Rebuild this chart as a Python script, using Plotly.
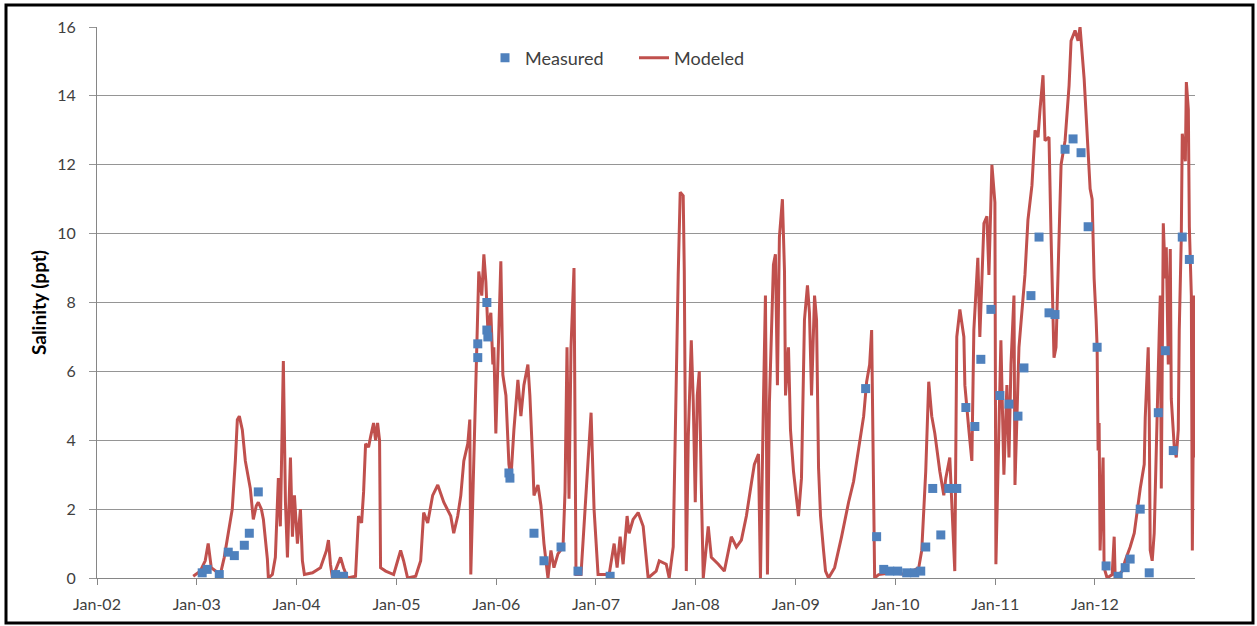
import pandas as pd
import plotly.graph_objects as go

# Modeled salinity (ppt), time as decimal years
model_t = [
    2002.964, 2003.034, 2003.084, 2003.114, 2003.145, 2003.185, 2003.235, 2003.275, 2003.305, 2003.355,
    2003.386, 2003.406, 2003.426, 2003.456, 2003.486, 2003.516, 2003.536, 2003.566, 2003.596, 2003.616,
    2003.647, 2003.667, 2003.707, 2003.717, 2003.757, 2003.787, 2003.817, 2003.837, 2003.857, 2003.867,
    2003.888, 2003.908, 2003.938, 2003.958, 2003.978, 2004.008, 2004.038, 2004.058, 2004.078, 2004.159,
    2004.239, 2004.299, 2004.319, 2004.339, 2004.359, 2004.400, 2004.440, 2004.470, 2004.510, 2004.590,
    2004.620, 2004.651, 2004.671, 2004.691, 2004.721, 2004.741, 2004.771, 2004.791, 2004.811, 2004.831,
    2004.841, 2004.892, 2004.972, 2005.012, 2005.042, 2005.072, 2005.112, 2005.193, 2005.243, 2005.273,
    2005.313, 2005.363, 2005.414, 2005.474, 2005.544, 2005.574, 2005.614, 2005.645, 2005.675, 2005.715,
    2005.735, 2005.745, 2005.775, 2005.805, 2005.825, 2005.855, 2005.876, 2005.896, 2005.916, 2005.946,
    2005.966, 2005.976, 2005.996, 2006.016, 2006.046, 2006.066, 2006.097, 2006.127, 2006.147, 2006.177,
    2006.217, 2006.247, 2006.277, 2006.317, 2006.337, 2006.367, 2006.378, 2006.418, 2006.448, 2006.478,
    2006.518, 2006.548, 2006.578, 2006.618, 2006.669, 2006.689, 2006.709, 2006.729, 2006.749, 2006.779,
    2006.789, 2006.799, 2006.849, 2006.900, 2006.950, 2006.980, 2007.020, 2007.131, 2007.181, 2007.211,
    2007.241, 2007.271, 2007.311, 2007.331, 2007.371, 2007.422, 2007.472, 2007.502, 2007.522, 2007.602,
    2007.633, 2007.703, 2007.733, 2007.773, 2007.793, 2007.823, 2007.843, 2007.873, 2007.884, 2007.904,
    2007.924, 2007.954, 2007.974, 2007.994, 2008.014, 2008.034, 2008.054, 2008.074, 2008.124, 2008.155,
    2008.225, 2008.285, 2008.355, 2008.406, 2008.456, 2008.506, 2008.556, 2008.586, 2008.627, 2008.647,
    2008.677, 2008.697, 2008.717, 2008.737, 2008.777, 2008.797, 2008.817, 2008.837, 2008.867, 2008.888,
    2008.898, 2008.928, 2008.948, 2008.978, 2009.028, 2009.058, 2009.088, 2009.118, 2009.138, 2009.159,
    2009.189, 2009.209, 2009.229, 2009.249, 2009.279, 2009.299, 2009.329, 2009.390, 2009.460, 2009.530,
    2009.580, 2009.631, 2009.681, 2009.711, 2009.741, 2009.761, 2009.781, 2009.791, 2009.831, 2009.962,
    2010.112, 2010.233, 2010.263, 2010.303, 2010.333, 2010.363, 2010.394, 2010.444, 2010.484, 2010.504,
    2010.544, 2010.564, 2010.594, 2010.614, 2010.645, 2010.685, 2010.695, 2010.735, 2010.765, 2010.785,
    2010.825, 2010.845, 2010.886, 2010.916, 2010.936, 2010.966, 2010.996, 2011.006, 2011.036, 2011.056,
    2011.086, 2011.116, 2011.137, 2011.157, 2011.187, 2011.197, 2011.237, 2011.267, 2011.297, 2011.327,
    2011.367, 2011.398, 2011.428, 2011.448, 2011.478, 2011.498, 2011.538, 2011.558, 2011.588, 2011.608,
    2011.639, 2011.659, 2011.699, 2011.739, 2011.759, 2011.799, 2011.829, 2011.849, 2011.890, 2011.920,
    2011.950, 2011.970, 2011.990, 2012.010, 2012.020, 2012.030, 2012.040, 2012.050, 2012.080, 2012.090,
    2012.120, 2012.171, 2012.191, 2012.201, 2012.271, 2012.301, 2012.351, 2012.392, 2012.422, 2012.452,
    2012.492, 2012.502, 2012.532, 2012.542, 2012.552, 2012.572, 2012.592, 2012.622, 2012.643, 2012.653,
    2012.663, 2012.683, 2012.703, 2012.713, 2012.733, 2012.753, 2012.763, 2012.793, 2012.813, 2012.833,
    2012.843, 2012.863, 2012.873, 2012.904, 2012.914, 2012.934, 2012.944, 2012.964, 2012.974, 2012.994,
    2013.004,
]
model_v = [
    0.05, 0.2, 0.5, 1.0, 0.3, 0.2, 0.1, 0.6, 1.1, 2.0,
    3.4, 4.6, 4.7, 4.3, 3.4, 2.9, 2.6, 1.7, 2.1, 2.2,
    2.0, 1.7, 0.55, 0.0, 0.1, 0.6, 2.9, 1.5, 5.7, 6.3,
    2.2, 0.6, 3.5, 1.2, 2.4, 1.0, 2.0, 0.5, 0.1, 0.15,
    0.3, 0.8, 1.1, 0.4, 0.0, 0.3, 0.6, 0.3, 0.0, 0.05,
    1.8, 1.6, 2.5, 3.9, 3.8, 4.1, 4.5, 4.0, 4.5, 4.0,
    0.3, 0.2, 0.1, 0.5, 0.8, 0.5, 0.0, 0.05, 0.5, 1.9,
    1.6, 2.4, 2.7, 2.2, 1.8, 1.3, 1.8, 2.4, 3.4, 3.9,
    4.6, 0.1, 3.3, 6.0, 8.9, 8.2, 9.4, 8.6, 7.2, 7.7,
    6.2, 6.7, 4.2, 6.2, 9.2, 5.9, 5.3, 3.3, 2.9, 4.3,
    5.75, 4.7, 5.6, 6.2, 5.3, 3.3, 2.4, 2.7, 2.1, 1.0,
    0.0, 0.8, 0.3, 0.7, 0.9, 2.5, 6.7, 2.3, 6.7, 9.0,
    2.8, 0.1, 0.1, 2.5, 4.8, 2.0, 0.1, 0.1, 1.0, 0.3,
    1.2, 0.4, 1.8, 1.3, 1.7, 1.9, 1.5, 0.6, 0.0, 0.2,
    0.5, 0.4, 0.0, 0.9, 4.5, 8.8, 11.2, 11.1, 8.9, 0.2,
    4.1, 6.9, 5.1, 2.2, 5.3, 6.0, 2.7, 0.0, 1.5, 0.6,
    0.4, 0.2, 1.2, 0.9, 1.1, 1.8, 2.75, 3.3, 3.6, 0.0,
    5.1, 8.2, 0.1, 5.1, 9.1, 9.4, 5.6, 9.9, 11.0, 8.9,
    5.3, 6.7, 4.3, 3.1, 1.8, 2.9, 7.5, 8.5, 7.7, 5.3,
    8.2, 7.5, 3.2, 1.8, 0.8, 0.2, 0.0, 0.3, 1.2, 2.2,
    2.8, 3.7, 4.7, 5.7, 6.2, 7.2, 1.8, 0.0, 0.1, 0.15,
    0.1, 0.3, 0.8, 3.1, 5.7, 4.7, 4.2, 3.1, 2.4, 2.9,
    3.5, 2.2, 0.2, 7.0, 7.8, 7.0, 5.6, 4.3, 3.4, 7.2,
    9.3, 7.0, 10.3, 10.5, 8.8, 12.0, 10.9, 0.4, 4.6, 6.9,
    3.0, 5.6, 3.5, 6.2, 8.2, 2.7, 6.7, 7.8, 8.8, 10.4,
    11.4, 13.0, 12.8, 13.6, 14.6, 12.7, 12.8, 10.0, 6.4, 6.7,
    9.6, 12.0, 12.7, 14.3, 15.6, 15.9, 15.6, 16.0, 14.5, 12.8,
    11.3, 11.0, 8.7, 7.5, 6.7, 3.7, 4.5, 0.8, 3.5, 0.3,
    0.0, 0.1, 1.2, 0.0, 0.2, 0.5, 0.9, 1.3, 2.0, 2.6,
    3.3, 4.65, 6.7, 4.8, 0.8, 0.5, 1.3, 5.2, 7.2, 8.2,
    2.6, 10.3, 8.7, 9.6, 6.2, 9.55, 5.2, 3.8, 3.5, 4.3,
    7.2, 9.85, 12.9, 12.1, 14.4, 13.6, 10.2, 8.2, 0.8, 8.2,
    3.5,
]

# Measured salinity (ppt)
meas_t = [
    2003.054, 2003.104, 2003.225, 2003.315, 2003.376, 2003.476, 2003.526, 2003.616,
    2004.390, 2004.470,
    2005.815, 2005.815, 2005.906, 2005.906, 2005.916, 2006.127, 2006.137, 2006.378,
    2006.478, 2006.649, 2006.819, 2007.141,
    2009.701, 2009.811, 2009.882, 2009.942, 2010.022, 2010.112, 2010.193, 2010.253,
    2010.303, 2010.373, 2010.454, 2010.534, 2010.614, 2010.705, 2010.795, 2010.855,
    2010.956, 2011.046, 2011.137, 2011.227, 2011.287, 2011.357, 2011.438, 2011.538,
    2011.598, 2011.699, 2011.779, 2011.859, 2011.930, 2012.020, 2012.110, 2012.231,
    2012.301, 2012.351, 2012.452, 2012.542, 2012.633, 2012.703, 2012.783, 2012.873,
    2012.944,
]
meas_v = [
    0.15, 0.25, 0.1, 0.75, 0.65, 0.95, 1.3, 2.5,
    0.1, 0.05,
    6.8, 6.4, 8.0, 7.2, 7.0, 3.05, 2.9, 1.3,
    0.5, 0.9, 0.2, 0.05,
    5.5, 1.2, 0.25, 0.2, 0.2, 0.15, 0.15, 0.2,
    0.9, 2.6, 1.25, 2.6, 2.6, 4.95, 4.4, 6.35,
    7.8, 5.3, 5.05, 4.7, 6.1, 8.2, 9.9, 7.7,
    7.65, 12.45, 12.75, 12.35, 10.2, 6.7, 0.35, 0.05,
    0.3, 0.55, 2.0, 0.15, 4.8, 6.6, 3.7, 9.9,
    9.25,
]

x_ticks = ['2002-01-01', '2003-01-01', '2004-01-01', '2005-01-01', '2006-01-01', '2007-01-01',
           '2008-01-01', '2009-01-01', '2010-01-01', '2011-01-01', '2012-01-01']
x_labels = ['Jan-02', 'Jan-03', 'Jan-04', 'Jan-05', 'Jan-06', 'Jan-07',
            'Jan-08', 'Jan-09', 'Jan-10', 'Jan-11', 'Jan-12']
y_ticks = [0, 2, 4, 6, 8, 10, 12, 14, 16]


def to_dates(ts):
    base = pd.Timestamp('2002-01-01')
    return [base + pd.to_timedelta((t - 2002) * 365.25, unit='D') for t in ts]


fig = go.Figure()

fig.add_trace(go.Scatter(
    x=to_dates(model_t), y=model_v, name='Modeled', mode='lines',
    line=dict(color='#C0504D', width=3), legendrank=2
))

fig.add_trace(go.Scatter(
    x=to_dates(meas_t), y=meas_v, name='Measured', mode='markers',
    marker=dict(color='#4F81BD', symbol='square', size=9), legendrank=1
))

W, H = 1257, 626
L, R, T, B = 97, 62, 27, 48
pw, ph = W - L - R, H - T - B


def px(x):
    return (x - L) / pw


def py(y):
    return (H - B - y) / ph


fig.update_layout(
    width=W, height=H,
    margin=dict(l=L, r=R, t=T, b=B),
    paper_bgcolor='white', plot_bgcolor='white',
    font=dict(family='Lato, Open Sans, sans-serif', size=16, color='#404040'),
    showlegend=True,
    legend=dict(orientation='h', x=px(485), xanchor='left', y=py(58), yanchor='middle',
                entrywidth=104, entrywidthmode='pixels',
                font=dict(size=18, color='#404040'), bgcolor='rgba(0,0,0,0)'),
    shapes=[dict(type='rect', xref='paper', yref='paper',
                 x0=px(6), x1=px(1253), y0=py(623), y1=py(5),
                 line=dict(color='black', width=3), fillcolor='rgba(0,0,0,0)', layer='above')],
)

fig.update_xaxes(
    type='date', range=['2002-01-01', '2013-01-01'],
    tickvals=x_ticks, ticktext=x_labels,
    showgrid=False, showline=True, linecolor='#868686', linewidth=1,
    ticks='outside', ticklen=6, tickcolor='#868686', ticklabelstandoff=6,
    zeroline=False
)

fig.update_yaxes(
    range=[0, 16], tickvals=y_ticks,
    showgrid=True, gridcolor='#959595', gridwidth=1,
    showline=True, linecolor='#868686', linewidth=1,
    ticks='outside', ticklen=7, tickcolor='#959595', ticklabelstandoff=10,
    zeroline=False,
    title=dict(text='<b>Salinity (ppt)</b>', font=dict(size=19, color='#000000'), standoff=5)
)

fig.write_html('out.html', config={'displayModeBar': False},
               post_script="document.body.style.margin='0';document.body.style.overflow='hidden';")
